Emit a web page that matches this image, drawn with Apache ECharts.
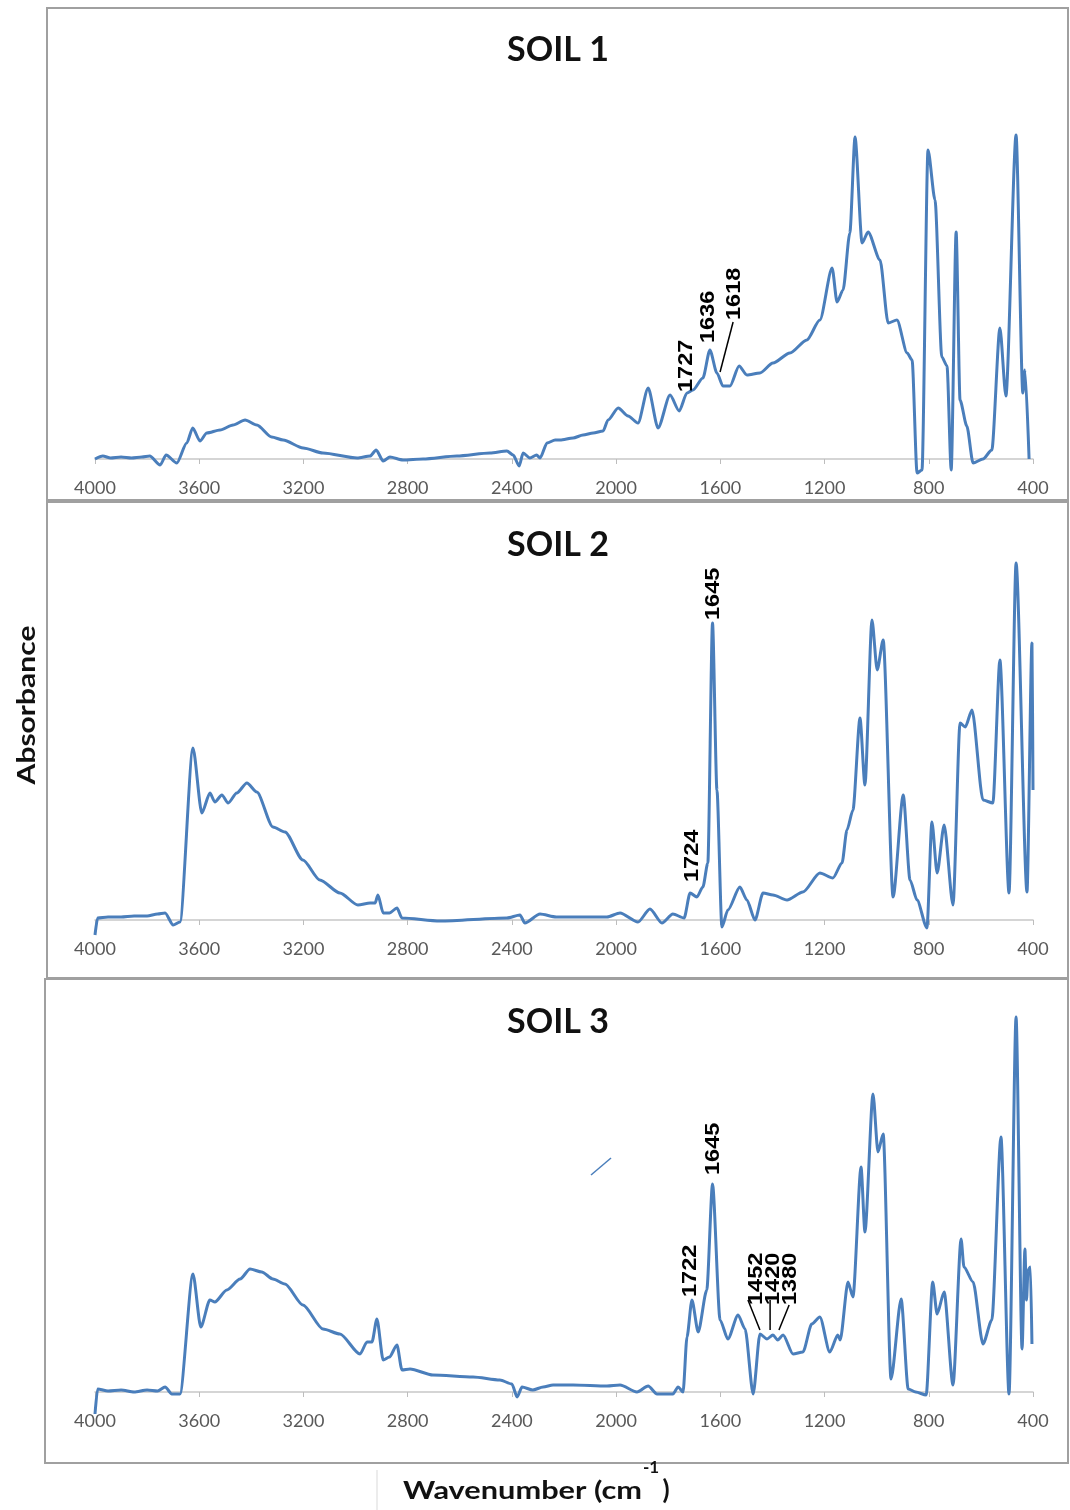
<!DOCTYPE html>
<html>
<head>
<meta charset="utf-8">
<title>FTIR spectra of soils</title>
<script src="https://cdn.jsdelivr.net/npm/echarts/dist/echarts.min.js"></script>
<style>
  html, body { margin: 0; padding: 0; background: #fff; }
  #main { width: 1070px; height: 1510px; }
</style>
</head>
<body>
<div id="main"></div>
<script>
// x ticks, wavenumber cm-1
var tickMin = 400, tickMax = 4000, tickStep = 400;

// SOIL 1 (wavenumber / absorbance, arbitrary units)
var soil1Wn = [4000, 3970, 3940, 3900, 3860, 3820, 3790, 3750, 3727, 3686, 3648, 3625, 3597, 3571, 3520, 3470, 3424, 3379, 3322, 3278,
  3201, 3125, 2994, 2944, 2921, 2894, 2868, 2818, 2741, 2611, 2484, 2419, 2395, 2372, 2357, 2331, 2305, 2292, 2265, 2234,
  2215, 2165, 2127, 2088, 2050, 2031, 1992, 1954, 1916, 1877, 1839, 1793, 1758, 1728, 1705, 1667, 1640, 1613, 1590, 1563,
  1528, 1498, 1448, 1398, 1333, 1268, 1218, 1171, 1152, 1129, 1103, 1083, 1056, 1033, 987, 956, 922, 883, 864, 845,
  826, 803, 776, 750, 730, 714, 695, 680, 654, 630, 592, 558, 527, 504, 465, 439, 431, 415];
var soil1Abs = [0.00, 0.03, 0.01, 0.02, 0.01, 0.02, 0.03, -0.06, 0.04, -0.04, 0.16, 0.31, 0.18, 0.26, 0.29, 0.34, 0.39, 0.34, 0.22, 0.19,
  0.11, 0.06, 0.01, 0.03, 0.09, -0.02, 0.02, -0.01, 0.00, 0.03, 0.06, 0.08, 0.04, -0.07, 0.06, 0.01, 0.04, 0.01, 0.16, 0.19,
  0.19, 0.21, 0.24, 0.26, 0.28, 0.39, 0.51, 0.43, 0.36, 0.71, 0.31, 0.64, 0.48, 0.66, 0.69, 0.81, 1.09, 0.86, 0.73, 0.73,
  0.93, 0.84, 0.86, 0.96, 1.06, 1.19, 1.39, 1.91, 1.57, 1.69, 2.26, 3.22, 2.16, 2.27, 1.99, 1.36, 1.39, 1.06, 0.99, -0.14,
  -0.11, 3.09, 2.59, 1.02, 0.93, -0.11, 2.27, 0.59, 0.33, -0.04, 0.00, 0.09, 1.31, 0.63, 3.24, 0.66, 0.89, 0.00];

// SOIL 2
var soil2Wn = [4000, 3990, 3950, 3900, 3850, 3800, 3760, 3731, 3700, 3674, 3624, 3590, 3559, 3540, 3513, 3489, 3456, 3417, 3379, 3317,
  3271, 3202, 3137, 3060, 2991, 2944, 2925, 2914, 2894, 2870, 2841, 2822, 2676, 2419, 2369, 2350, 2292, 2230, 2165, 2035,
  1985, 1916, 1870, 1824, 1782, 1739, 1716, 1690, 1667, 1648, 1630, 1613, 1594, 1571, 1525, 1498, 1467, 1436, 1398, 1344,
  1283, 1218, 1168, 1133, 1114, 1091, 1064, 1045, 1018, 998, 975, 937, 898, 872, 845, 807, 788, 768, 741, 707,
  680, 660, 634, 592, 554, 527, 492, 465, 423, 404, 400];
var soil2Abs = [-0.15, 0.02, 0.03, 0.03, 0.04, 0.04, 0.06, 0.07, -0.05, -0.02, 1.72, 1.07, 1.27, 1.18, 1.25, 1.17, 1.27, 1.37, 1.28, 0.93,
  0.88, 0.60, 0.40, 0.27, 0.15, 0.17, 0.17, 0.25, 0.07, 0.07, 0.12, 0.02, -0.01, 0.02, 0.05, -0.03, 0.06, 0.03, 0.03, 0.03,
  0.07, -0.02, 0.11, -0.03, 0.06, 0.02, 0.27, 0.23, 0.33, 0.57, 2.97, 1.30, -0.07, 0.10, 0.33, 0.20, 0.00, 0.27, 0.25, 0.20,
  0.28, 0.47, 0.42, 0.57, 0.90, 1.10, 2.02, 1.35, 3.00, 2.50, 2.80, 0.23, 1.25, 0.40, 0.20, -0.08, 0.98, 0.47, 0.95, 0.15,
  1.97, 1.93, 2.10, 1.20, 1.17, 2.60, 0.27, 3.57, 0.28, 2.77, 1.30];

// SOIL 3
var soil3Wn = [4000, 3990, 3950, 3900, 3850, 3800, 3760, 3731, 3705, 3674, 3624, 3594, 3559, 3540, 3494, 3443, 3405, 3360, 3317, 3271,
  3202, 3125, 3060, 2983, 2956, 2937, 2918, 2894, 2870, 2841, 2822, 2791, 2703, 2549, 2446, 2400, 2380, 2361, 2320, 2280,
  2242, 2165, 2035, 1985, 1920, 1877, 1843, 1782, 1762, 1743, 1728, 1709, 1685, 1652, 1630, 1601, 1571, 1532, 1505, 1474,
  1448, 1421, 1398, 1380, 1359, 1321, 1283, 1249, 1218, 1180, 1149, 1140, 1110, 1091, 1060, 1045, 1014, 995, 975, 945,
  906, 879, 850, 810, 785, 768, 741, 707, 676, 665, 630, 592, 558, 523, 492, 465, 442, 431, 425, 419,
  410, 404];
var soil3Abs = [-0.22, 0.03, 0.01, 0.02, 0.00, 0.02, 0.01, 0.05, -0.02, -0.02, 1.18, 0.65, 0.92, 0.90, 1.02, 1.13, 1.23, 1.20, 1.13, 1.08,
  0.87, 0.63, 0.58, 0.38, 0.50, 0.50, 0.73, 0.32, 0.35, 0.47, 0.22, 0.23, 0.17, 0.15, 0.12, 0.08, -0.05, 0.05, 0.02, 0.05,
  0.07, 0.07, 0.06, 0.07, 0.00, 0.06, -0.02, -0.02, 0.05, 0.00, 0.55, 0.92, 0.60, 1.02, 2.08, 0.72, 0.53, 0.77, 0.63, -0.02,
  0.58, 0.53, 0.57, 0.52, 0.57, 0.38, 0.40, 0.68, 0.75, 0.40, 0.57, 0.52, 1.10, 0.95, 2.25, 1.60, 2.98, 2.40, 2.58, 0.13,
  0.93, 0.03, 0.00, -0.03, 1.10, 0.78, 1.00, 0.07, 1.53, 1.25, 1.10, 0.48, 0.72, 2.55, -0.02, 3.75, 0.43, 1.43, 0.92, 1.22,
  1.25, 0.48];

// peak labels: panel index, text, anchor (wavenumber, absorbance) of the label start
var peakLabels = [
  [0, '1727', 1732, 0.67],
  [0, '1636', 1647, 1.16],
  [0, '1618', 1547, 1.39],
  [1, '1645', 1628, 3.00],
  [1, '1724', 1709, 0.38],
  [2, '1645', 1628, 2.17],
  [2, '1722', 1716, 0.95],
  [2, '1452', 1463, 0.87],
  [2, '1420', 1398, 0.87],
  [2, '1380', 1333, 0.87]
];
// leader lines: panel, from (wn, abs) to (wn, abs)
var leaderLines = [
  [0, 1551, 1.37, 1601, 0.87],
  [2, 1494, 0.92, 1448, 0.62],
  [2, 1409, 0.92, 1409, 0.62],
  [2, 1336, 0.87, 1375, 0.62]
];

var titles = ['SOIL 1', 'SOIL 2', 'SOIL 3'];

// grid bottom sits on the zero line, negative dips drawn unclipped
var panels = [
  { wn: soil1Wn, abs: soil1Abs, top: 119, height: 340, max: 3.4, titleY: 50, frame: [47, 8, 1021, 492] },
  { wn: soil2Wn, abs: soil2Abs, top: 550, height: 370, max: 3.7, titleY: 545, frame: [47, 502, 1021, 476] },
  { wn: soil3Wn, abs: soil3Abs, top: 1002, height: 390, max: 3.9, titleY: 1022, frame: [45, 979, 1023, 484] }
];

var lineColor = '#4a7ebb';

var chart = echarts.init(document.getElementById('main'));

var option = {
  animation: false,
  backgroundColor: '#fff',
  grid: panels.map(function (p) {
    return { left: 95, right: 37, top: p.top, height: p.height };
  }),
  xAxis: panels.map(function (p, i) {
    return {
      type: 'value',
      gridIndex: i,
      min: tickMin,
      max: tickMax,
      interval: tickStep,
      inverse: true,
      axisLine: { lineStyle: { color: '#c8c8c8', width: 1.5 } },
      axisTick: { show: true, length: 5, lineStyle: { color: '#bdbdbd' } },
      axisLabel: {
        color: '#595959', fontFamily: 'Lato', fontSize: 18, margin: 20,
        showMinLabel: true, showMaxLabel: true,
        formatter: function (v) { return String(v); }
      },
      splitLine: { show: false }
    };
  }),
  yAxis: panels.map(function (p, i) {
    return { type: 'value', gridIndex: i, min: 0, max: p.max, show: false };
  }),
  series: panels.map(function (p, i) {
    return {
      type: 'line',
      xAxisIndex: i,
      yAxisIndex: i,
      showSymbol: false,
      clip: false,
      smooth: 0.25,
      smoothMonotone: 'x',
      lineStyle: { color: lineColor, width: 3 },
      data: p.wn.map(function (w, k) { return [w, p.abs[k]]; })
    };
  })
};
chart.setOption(option);

// static decoration: frames, titles, axis names
var g = [];
panels.forEach(function (p, i) {
  g.push({
    type: 'rect', z: 0, silent: true,
    shape: { x: p.frame[0], y: p.frame[1], width: p.frame[2], height: p.frame[3] },
    style: { fill: 'none', stroke: '#a0a0a0', lineWidth: 2 }
  });
  g.push({
    type: 'text', x: 558, y: p.titleY,
    style: { text: titles[i], font: 'bold 34px Lato', fill: '#111', align: 'center', verticalAlign: 'middle' }
  });
});

g.push({
  type: 'text', x: 27, y: 705, rotation: Math.PI / 2, scaleX: 1.2,
  style: { text: 'Absorbance', font: 'bold 25px Lato', fill: '#111', align: 'center', verticalAlign: 'middle' }
});
g.push({
  type: 'text', x: 403, y: 1491, scaleX: 1.28,
  style: { text: 'Wavenumber (cm', font: 'bold 24px Lato', fill: '#111', align: 'left', verticalAlign: 'middle' }
});
g.push({
  type: 'text', x: 651, y: 1468,
  style: { text: '-1', font: 'bold 17px Lato', fill: '#111', align: 'center', verticalAlign: 'middle' }
});
g.push({
  type: 'text', x: 666, y: 1491,
  style: { text: ')', font: 'bold 26px Lato', fill: '#111', align: 'center', verticalAlign: 'middle' }
});
g.push({
  type: 'line', shape: { x1: 377, y1: 1470, x2: 377, y2: 1510 },
  style: { stroke: '#d9d9d9', lineWidth: 1 }
});
// stray stroke in the SOIL 3 panel
g.push({
  type: 'line', shape: { x1: 591, y1: 1175, x2: 611, y2: 1158 },
  style: { stroke: lineColor, lineWidth: 1.5 }
});

peakLabels.forEach(function (l) {
  var pt = chart.convertToPixel({ gridIndex: l[0] }, [l[2], l[3]]);
  g.push({
    type: 'text', x: pt[0], y: pt[1], rotation: Math.PI / 2, scaleX: 1.12, z: 10,
    style: { text: l[1], font: 'bold 21px "Liberation Sans"', fill: '#000', align: 'left', verticalAlign: 'middle' }
  });
});
leaderLines.forEach(function (l) {
  var a = chart.convertToPixel({ gridIndex: l[0] }, [l[1], l[2]]);
  var b = chart.convertToPixel({ gridIndex: l[0] }, [l[3], l[4]]);
  g.push({
    type: 'line', z: 10, shape: { x1: a[0], y1: a[1], x2: b[0], y2: b[1] },
    style: { stroke: '#000', lineWidth: 1.5 }
  });
});

chart.setOption({ graphic: g });
</script>
</body>
</html>
